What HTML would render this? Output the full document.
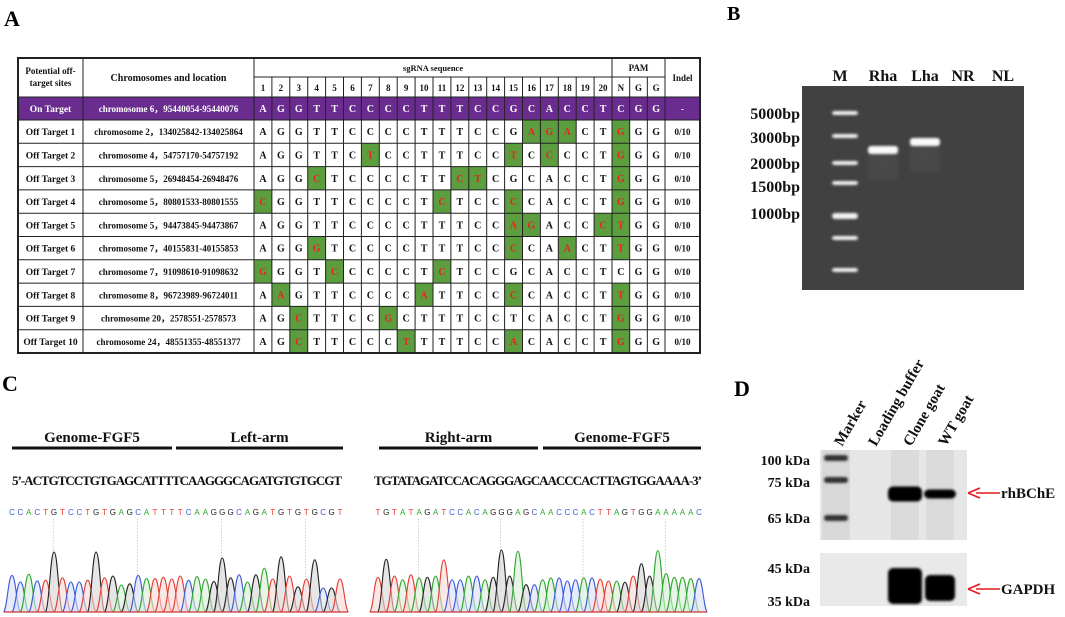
<!DOCTYPE html>
<html><head><meta charset="utf-8">
<style>
html,body{margin:0;padding:0;background:#fff;}
svg{display:block;font-family:"Liberation Serif",serif;font-weight:bold;}
</style></head>
<body>
<svg id="fig" width="1065" height="617" viewBox="0 0 1065 617" xmlns="http://www.w3.org/2000/svg">
<defs>
<filter id="blur1" x="-50%" y="-100%" width="200%" height="300%"><feGaussianBlur stdDeviation="1.3"/></filter>
<filter id="blur2" x="-50%" y="-100%" width="200%" height="300%"><feGaussianBlur stdDeviation="2.2"/></filter>
</defs>
<text x="4" y="26" font-size="22">A</text>
<text x="727" y="20" font-size="20">B</text>
<text x="2" y="391" font-size="22">C</text>
<text x="734" y="396" font-size="22">D</text>
<g id="table"></g>
<g id="gel"></g>
<g id="chrom"></g>
<g id="blot"></g>
</svg>
<script>
const NS="http://www.w3.org/2000/svg";
function mk(tag,attrs,parent,txt){const e=document.createElementNS(NS,tag);for(const k in attrs)e.setAttribute(k,attrs[k]);if(txt!==undefined)e.textContent=txt;parent.appendChild(e);return e;}

// ---------- Table data ----------
const rowNames=["On Target","Off Target 1","Off Target 2","Off Target 3","Off Target 4","Off Target 5","Off Target 6","Off Target 7","Off Target 8","Off Target 9","Off Target 10"];
const rowLoc=["chromosome 6，95440054-95440076","chromosome 2，134025842-134025864","chromosome 4，54757170-54757192","chromosome 5，26948454-26948476","chromosome 5，80801533-80801555","chromosome 5，94473845-94473867","chromosome 7，40155831-40155853","chromosome 7，91098610-91098632","chromosome 8，96723989-96724011","chromosome 20，2578551-2578573","chromosome 24，48551355-48551377"];
const rowSeq=["AGGTTCCCCTTTCCGCACCTCGG","AGGTTCCCCTTTCCGAGACTGGG","AGGTTCTCCTTTCCTCCCCTGGG","AGGCTCCCCTTCTCGCACCTGGG","CGGTTCCCCTCTCCCCACCTGGG","AGGTTCCCCTTTCCAGACCCTGG","AGGGTCCCCTTTCCCCAACTTGG","GGGTCCCCCTCTCCGCACCTCGG","AAGTTCCCCATTCCCCACCTTGG","AGCTTCCGCTTTCCTCACCTGGG","AGCTTCCCTTTTCCACACCTGGG"];
const rowHi=[[],[16,17,18,21],[7,15,17,21],[4,12,13,21],[1,11,15,21],[15,16,20,21],[4,15,18,21],[1,5,11],[2,10,15,21],[3,8,21],[3,9,15,21]];
const rowIndel=["-","0/10","0/10","0/10","0/10","0/10","0/10","0/10","0/10","0/10","0/10"];

const T=document.getElementById('table');
const tx0=18,tx1=83,tx2=254,tx3=612,tx4=665,tx5=700;
const ty0=58,tySub=77,ty1=97,ty2=120,rowH=23.3;
const cw=(tx3-tx2)/20, pw=(tx4-tx3)/3;
function colX(i){return i<20?tx2+i*cw:tx3+(i-20)*pw;}
function colW(i){return i<20?cw:pw;}
let pr=mk('rect',{x:tx0,y:ty1,width:tx5-tx0,height:ty2-ty1,fill:'#6a2d8f'},T);

rowHi.forEach((hs,r)=>{hs.forEach(p=>{const i=p-1;const y=ty2+(r-1)*rowH;
 const g=mk('rect',{x:colX(i),y:y,width:colW(i),height:rowH,fill:'#5c9e3f'},T);
 });});
const yEnd=ty2+10*rowH;
const lines=mk('g',{stroke:'#222','stroke-width':1},T);

[tx1,tx2,tx3,tx4].forEach(x=>mk('line',{x1:x,y1:ty0,x2:x,y2:yEnd},lines));
for(let i=1;i<23;i++){if(i===20)continue;mk('line',{x1:colX(i),y1:tySub,x2:colX(i),y2:yEnd},lines);}
mk('line',{x1:tx2,y1:tySub,x2:tx4,y2:tySub},lines);
mk('line',{x1:tx0,y1:ty1,x2:tx5,y2:ty1},lines);
for(let r=0;r<=10;r++)mk('line',{x1:tx0,y1:ty2+r*rowH,x2:tx5,y2:ty2+r*rowH},lines);
mk('rect',{x:tx0,y:ty0,width:tx5-tx0,height:yEnd-ty0,fill:'none','stroke-width':2},lines);
function t(x,y,s,txt,fill,name){const e=mk('text',{x:x,y:y,'font-size':s,'text-anchor':'middle',fill:fill||'#111'},T,txt);return e;}
t((tx0+tx1)/2,74,9,"Potential off-",null,'header-sites');t((tx0+tx1)/2,86,9,"target sites",null,'header-sites');
t((tx1+tx2)/2,81,10,"Chromosomes and location",null,'header-location');
t((tx2+tx3)/2,71,8.5,"sgRNA sequence",null,'header-sgrna');
t((tx3+tx4)/2,71,9,"PAM",null,'header-pam');
t((tx4+tx5)/2,81,9,"Indel",null,'header-indel');
for(let i=0;i<23;i++){const lab=i<20?String(i+1):["N","G","G"][i-20];t(colX(i)+colW(i)/2,91,9,lab,null,'position-header');}
rowNames.forEach((n,r)=>{const yc=r===0?(ty1+ty2)/2:ty2+(r-0.5)*rowH;const col=r===0?'#fff':'#111';
 t((tx0+tx1)/2,yc+3.5,9.5,n,col,'row-name');
 t((tx1+tx2)/2,yc+3.5,9,rowLoc[r],col,'row-location');
 for(let i=0;i<23;i++){const hi=rowHi[r].includes(i+1);t(colX(i)+colW(i)/2,yc+3.5,10,rowSeq[r][i],r===0?'#fff':(hi?'#e8231e':'#111'),'base-cell');}
 t((tx4+tx5)/2,yc+3.5,9,rowIndel[r],col,'row-indel');});

// ---------- Gel ----------
const G=document.getElementById('gel');
const gelLanes=["M","Rha","Lha","NR","NL"];
const gelLaneX=[840,883,925,963,1003];
const ladderLabels=["5000bp","3000bp","2000bp","1500bp","1000bp"];
const ladderLabelY=[113,137,163,186,213];
const ladderBandY=[113,136,163,183,216,238,270];
const sampleBands=[{lane:1,y:150},{lane:2,y:142}];
let gr=mk('rect',{x:802,y:86,width:222,height:204,fill:'#414141'},G);

gelLanes.forEach((l,i)=>{const e=mk('text',{x:gelLaneX[i],y:81,'font-size':16,'text-anchor':'middle',fill:'#111'},G,l);});
ladderLabels.forEach((l,i)=>{const e=mk('text',{x:800,y:ladderLabelY[i]+6,'font-size':16,'text-anchor':'end',fill:'#111'},G,l);});
ladderBandY.forEach((y,i)=>{const h=i===4?6:4;const e=mk('rect',{x:832,y:y-h/2,width:26,height:h,rx:3,fill:'#f2f2f2',filter:'url(#blur1)'},G);});
sampleBands.forEach(b=>{const x=gelLaneX[b.lane];
 const s=mk('rect',{x:x-15,y:b.y,width:30,height:30,fill:'#555',opacity:0.4,filter:'url(#blur2)'},G);
 const e=mk('rect',{x:x-15,y:b.y-4,width:30,height:8,rx:3,fill:'#fafafa',filter:'url(#blur1)'},G);});

// ---------- Chromatogram ----------
const C=document.getElementById('chrom');
const baseColor={A:'#2fa52f',C:'#3b5bd6',G:'#222222',T:'#e53b32'};
const fillColor={A:'#d6efd6',C:'#d8def6',G:'#d6d6d6',T:'#f6d8d6'};
const leftCalls="CCACTGTCCTGTGAGCATTTTCAAGGGCAGATGTGTGCGT";
const leftHeights=[0.61,0.5,0.63,0.52,0.53,1.0,0.57,0.5,0.5,0.53,1.0,0.57,0.6,0.45,0.47,0.61,0.56,0.56,0.58,0.55,0.6,0.53,0.59,0.55,0.51,0.9,0.57,0.62,0.5,0.62,0.73,0.55,0.92,0.6,0.42,0.55,0.87,0.4,0.4,0.55];
const rightCalls="TGTATAGATCCACAGGGAGCAACCCACTTAGTGGAAAAAC";
const rightHeights=[0.56,0.85,0.58,0.52,0.6,0.55,0.56,0.58,0.84,0.52,0.52,0.58,0.58,0.52,0.56,1.0,0.58,0.98,0.44,0.44,0.52,0.55,0.55,0.5,0.52,0.55,0.55,0.53,0.5,0.5,0.48,0.58,0.78,0.58,0.99,0.62,0.56,0.56,0.54,0.54];
const leftSeqText="5’-ACTGTCCTGTGAGCATTTTCAAGGGCAGATGTGTGCGT";
const rightSeqText="TGTATAGATCCACAGGGAGCAACCCACTTAGTGGAAAA-3’";
function drawSeg(x1,x2,label){const l=mk('line',{x1:x1,y1:448,x2:x2,y2:448,stroke:'#111','stroke-width':3},C);
 const e=mk('text',{x:(x1+x2)/2,y:442,'font-size':15,'text-anchor':'middle',fill:'#111'},C,label);}
drawSeg(12,172,"Genome-FGF5");drawSeg(176,343,"Left-arm");drawSeg(379,538,"Right-arm");drawSeg(543,701,"Genome-FGF5");
let st=mk('text',{x:12,y:485,'font-size':13,fill:'#111',textLength:330},C,leftSeqText);
st=mk('text',{x:374,y:485,'font-size':13,fill:'#111',textLength:328},C,rightSeqText);
function drawTrace(x0,x1,calls,heights,base,maxH){
 const step=(x1-x0)/(calls.length-1);
 calls.split('').forEach((b,i)=>{const e=mk('text',{x:x0+i*step,y:515,'font-size':8,'text-anchor':'middle',fill:baseColor[b],'font-family':'Liberation Sans, sans-serif','font-weight':'normal'},C,b);});
 for(let i=4;i<calls.length;i+=10){const d=mk('line',{x1:x0+i*step+step*0.9,y1:519,x2:x0+i*step+step*0.9,y2:base-20,stroke:'#bbb','stroke-dasharray':'1.5,1.5','stroke-width':0.7},C);}
 calls.split('').forEach((b,i)=>{const cx=x0+i*step,h=heights[i]*maxH,w=step*1.0;
  const p=`M${cx-w},${base} C${cx-w*0.55},${base-h*0.1} ${cx-w*0.45},${base-h} ${cx},${base-h} C${cx+w*0.45},${base-h} ${cx+w*0.55},${base-h*0.1} ${cx+w},${base}`;
  const e=mk('path',{d:p,fill:fillColor[b],'fill-opacity':0.6,stroke:baseColor[b],'stroke-width':1.1},C);});
 const bl=mk('line',{x1:x0-8,y1:base,x2:x1+8,y2:base,stroke:'#c33','stroke-width':1.2},C);}
drawTrace(12,340,leftCalls,leftHeights,612,60);
drawTrace(378,699,rightCalls,rightHeights,612,62);

// ---------- Western blot ----------
const B=document.getElementById('blot');
const blotLanes=["Marker","Loading buffer","Clone goat","WT goat"];
const blotLaneX=[836,870,905,940];
const kdaLabels=["100 kDa","75 kDa","65 kDa","45 kDa","35 kDa"];
const kdaY=[460,482,518,568,601];
const markerBandY=[458,480,518];
const targetBands=[{lane:2,y:494,h:15,w:34},{lane:3,y:494,h:9,w:32}];
const gapdhBands=[{lane:2,y:586,h:36,w:34},{lane:3,y:588,h:26,w:30}];
let r1=mk('rect',{x:820,y:450,width:147,height:90,fill:'#e6e6e6'},B);
let r2=mk('rect',{x:820,y:553,width:147,height:53,fill:'#e9e9e9'},B);
[[836,'#d0d0d0'],[905,'#d4d4d4'],[940,'#d4d4d4']].forEach(([x,c])=>{const e=mk('rect',{x:x-14,y:450,width:28,height:90,fill:c,opacity:0.6},B);});
blotLanes.forEach((l,i)=>{const e=mk('text',{x:0,y:0,'font-size':15,fill:'#111',transform:`translate(${blotLaneX[i]+6},447) rotate(-60)`},B,l);});
kdaLabels.forEach((l,i)=>{const e=mk('text',{x:810,y:kdaY[i]+5,'font-size':14,'text-anchor':'end',fill:'#111'},B,l);});
markerBandY.forEach(y=>{const e=mk('rect',{x:824,y:y-3,width:24,height:6,rx:3,fill:'#333',filter:'url(#blur1)'},B);});
targetBands.concat(gapdhBands).forEach(b=>{const x=blotLaneX[b.lane];const e=mk('rect',{x:x-b.w/2,y:b.y-b.h/2,width:b.w,height:b.h,rx:5,fill:'#050505',filter:'url(#blur1)'},B);});
function arrow(y,label){const l=mk('line',{x1:976,y1:y,x2:1000,y2:y,stroke:'#e31a1a','stroke-width':1.6},B);
 const h=mk('path',{d:`M968,${y} L980,${y-5} M968,${y} L980,${y+5}`,stroke:'#e31a1a','stroke-width':1.6,fill:'none'},B);
 const e=mk('text',{x:1001,y:y+5,'font-size':15,fill:'#111'},B,label);}
arrow(493,"rhBChE");arrow(589,"GAPDH");
</script>
</body></html>
